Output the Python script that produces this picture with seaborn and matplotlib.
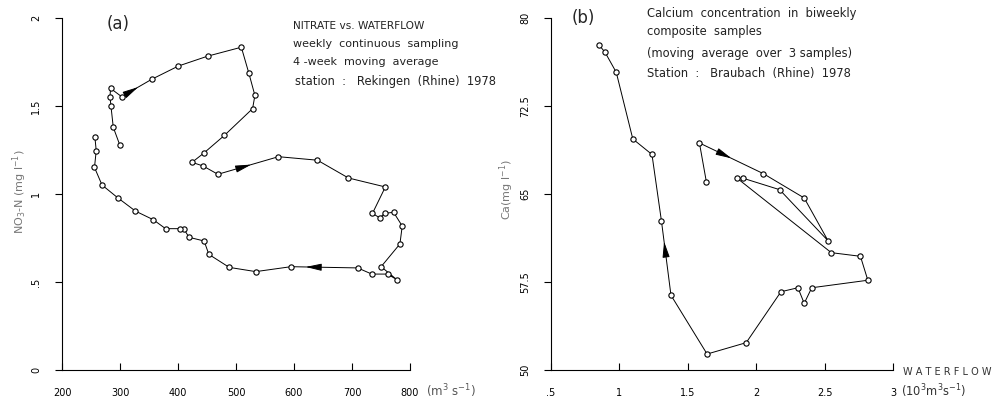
import numpy as np
import pandas as pd
import matplotlib
matplotlib.use("Agg")
import matplotlib.pyplot as plt
import seaborn as sns

# ---------------- data: panel (a) nitrate vs waterflow ----------------
a_flow = [299.7, 288.4, 284.4, 282.7, 283.8, 302.8, 354.8, 400.6, 450.9, 509.2,
          522.2, 532.6, 528.6, 480.0, 444.0, 424.2, 443.3, 468.8, 573.2, 640.4,
          693.8, 757.5, 735.3, 748.0, 756.1, 771.7, 786.6, 782.6, 750.2, 777.4,
          761.3, 734.1, 709.8, 594.8, 534.1, 488.4, 453.2, 445.0, 419.0, 409.8,
          404.1, 378.6, 357.3, 326.6, 295.9, 269.0, 256.0, 259.0, 256.7]
a_nitrate = [1.278, 1.379, 1.500, 1.553, 1.600, 1.553, 1.652, 1.727, 1.783, 1.834,
             1.686, 1.560, 1.485, 1.333, 1.231, 1.180, 1.159, 1.112, 1.212, 1.192,
             1.091, 1.040, 0.890, 0.864, 0.890, 0.896, 0.818, 0.716, 0.587, 0.513,
             0.545, 0.545, 0.580, 0.587, 0.559, 0.583, 0.657, 0.733, 0.754, 0.803,
             0.803, 0.803, 0.854, 0.903, 0.979, 1.051, 1.151, 1.246, 1.324]
a_arrows = [(5, 0.55), (17, 0.55), (32, 0.78)]   # (segment start index, fraction)
a_xticks = [200, 300, 400, 500, 600, 700, 800]
a_xticklabels = ["200", "300", "400", "500", "600", "700", "800"]
a_yticks = [0, 0.5, 1, 1.5, 2]
a_yticklabels = ["0", ".5", "1", "1.5", "2"]

# ---------------- data: panel (b) calcium vs waterflow ----------------
b_flow = [1.636, 1.585, 2.053, 2.351, 2.525, 2.171, 1.905, 1.861, 2.549, 2.762,
          2.816, 2.406, 2.351, 2.305, 2.181, 1.927, 1.641, 1.377, 1.307, 1.238,
          1.098, 0.977, 0.895, 0.851]
b_calcium = [66.02, 69.35, 66.73, 64.66, 61.02, 65.37, 66.34, 66.34, 60.00, 59.69,
             57.65, 57.01, 55.68, 57.01, 56.67, 52.33, 51.36, 56.37, 62.73, 68.37,
             69.69, 75.37, 77.08, 77.70]
b_arrows = [(1, 0.5), (17, 0.72)]
b_xticks = [0.5, 1, 1.5, 2, 2.5, 3]
b_xticklabels = [".5", "1", "1.5", "2", "2.5", "3"]
b_yticks = [50, 57.5, 65, 72.5, 80]
b_yticklabels = ["50", "57.5", "65", "72.5", "80"]

sns.set_theme(style="white")
plt.rcParams['font.family'] = ['DejaVu Sans']

fig = plt.figure(figsize=(10.01, 4.01), dpi=100)
axA = fig.add_axes([62/1001, 31/401, 348/1001, 352/401])
axB = fig.add_axes([551/1001, 31/401, 342/1001, 352/401])


def draw(ax, xs, ys, arrows):
    df = pd.DataFrame({"x": xs, "y": ys})
    sns.lineplot(data=df, x="x", y="y", sort=False, estimator=None, ax=ax,
                 color="black", lw=0.7, marker="o", markersize=3.8,
                 markerfacecolor="white", markeredgecolor="black",
                 markeredgewidth=0.8)
    for i, f in arrows:
        x0, y0, x1, y1 = xs[i], ys[i], xs[i + 1], ys[i + 1]
        tip = (x0 + f * (x1 - x0), y0 + f * (y1 - y0))
        g = f - 0.12
        tail = (x0 + g * (x1 - x0), y0 + g * (y1 - y0))
        ax.annotate("", xy=tip, xytext=tail,
                    arrowprops=dict(arrowstyle="-|>,head_length=0.8,head_width=0.18",
                                    color="black", lw=0.7, shrinkA=0, shrinkB=0))


def style(ax, xlim, ylim, xt, xtl, yt, ytl):
    ax.set_xlim(*xlim)
    ax.set_ylim(*ylim)
    ax.set_xticks(xt)
    ax.set_xticklabels(xtl, fontsize=7)
    ax.set_yticks(yt)
    ax.set_yticklabels(ytl, fontsize=7, rotation=90, va="center")
    for s in ["top", "right"]:
        ax.spines[s].set_visible(False)
    for s in ["left", "bottom"]:
        ax.spines[s].set_color("black")
        ax.spines[s].set_linewidth(0.8)
    ax.tick_params(axis="x", direction="in", length=5, width=0.8, pad=13,
                   colors="black", bottom=True)
    ax.tick_params(axis="y", direction="out", length=5, width=0.8, pad=10,
                   colors="black", left=True)
    ax.set_xlabel("")
    ax.set_ylabel("")
    ax.grid(False)


draw(axA, a_flow, a_nitrate, a_arrows)
style(axA, (200, 800), (0, 2), a_xticks, a_xticklabels, a_yticks, a_yticklabels)
draw(axB, b_flow, b_calcium, b_arrows)
style(axB, (0.5, 3), (50, 80), b_xticks, b_xticklabels, b_yticks, b_yticklabels)

# labels and annotations (figure pixel coords -> fraction)
def ftxt(x, y, s, **kw):
    fig.text(x / 1001, 1 - y / 401, s, **kw)

ftxt(118, 24, "(a)", fontsize=12, ha="center", va="center")
ftxt(583, 18, "(b)", fontsize=12, ha="center", va="center")

kw = dict(fontsize=8, ha="left", va="center", color="#222222")
ftxt(293, 26, "NITRATE vs. WATERFLOW", fontsize=7.6, ha="left", va="center",
     color="#222222")
ftxt(293, 44, "weekly  continuous  sampling", **kw)
ftxt(293, 62, "4 -week  moving  average", **kw)
ftxt(295, 82, "station  :   Rekingen  (Rhine)  1978", fontsize=8.3, ha="left",
     va="center", color="#222222")

kw2 = dict(fontsize=8.3, ha="left", va="center", color="#222222")
ftxt(647, 13, "Calcium  concentration  in  biweekly", **kw2)
ftxt(647, 31, "composite  samples", **kw2)
ftxt(647, 53, "(moving  average  over  3 samples)", **kw2)
ftxt(647, 74, "Station  :   Braubach  (Rhine)  1978", **kw2)

ftxt(20, 192, r"NO$_3$-N (mg l$^{-1}$)", fontsize=8, rotation=90,
     ha="center", va="center", color="#777777")
ftxt(507, 190, r"Ca(mg l$^{-1}$)", fontsize=8, rotation=90,
     ha="center", va="center", color="#777777")

ftxt(426, 391, r"(m$^3$ s$^{-1}$)", fontsize=8.5, ha="left", va="center",
     color="#555555")
ftxt(903, 372, "W A T E R F L O W", fontsize=7, ha="left", va="center",
     color="#333333")
ftxt(901, 391, r"(10$^3$m$^3$s$^{-1}$)", fontsize=8.3, ha="left", va="center",
     color="#333333")

fig.savefig("out.png", dpi=100, facecolor="white")
